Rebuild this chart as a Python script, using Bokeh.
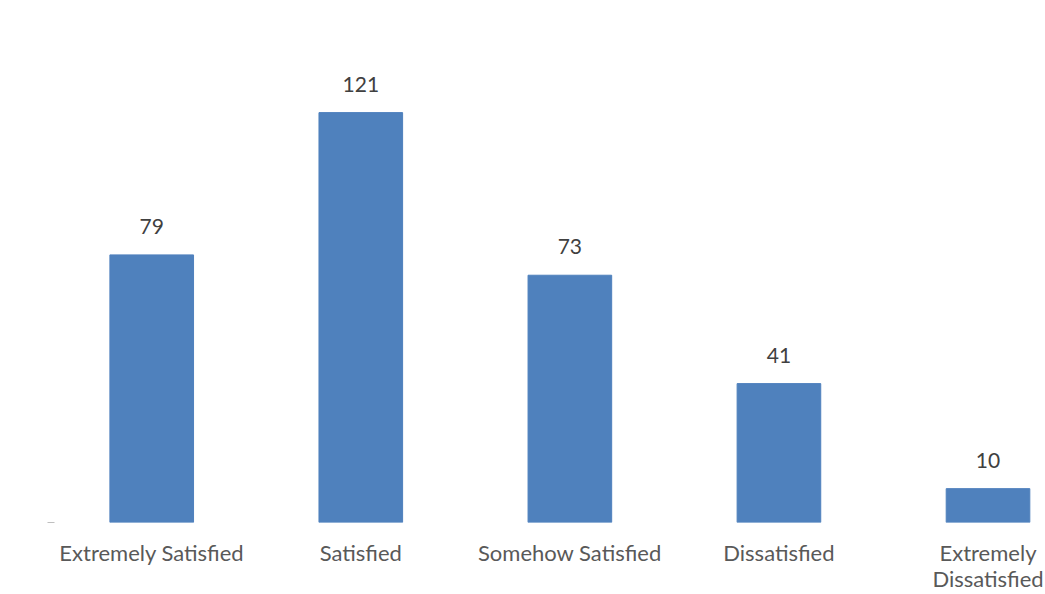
from bokeh.plotting import figure
from bokeh.models import Range1d, FixedTicker, ColumnDataSource, LinearAxis
from bokeh.core.properties import value
from bokeh.embed import file_html
from bokeh.resources import INLINE

categories = ["Extremely Satisfied", "Satisfied", "Somehow Satisfied", "Dissatisfied", "Extremely Dissatisfied"]
counts = [79, 121, 73, 41, 10]

# label lines (the last category wraps onto a second line)
label_line1 = ["Extremely Satisfied", "Satisfied", "Somehow Satisfied", "Dissatisfied", "Extremely"]
label_line2 = ["", "", "", "", "Dissatisfied"]

xs = list(range(len(categories)))
src = ColumnDataSource(dict(x=xs, top=counts, label=[str(c) for c in counts]))

p = figure(width=1045, height=594, output_backend="svg", toolbar_location=None,
           x_range=Range1d(-0.465, 4.275), y_range=Range1d(0, 154.1),
           min_border_left=54, min_border_right=0, min_border_top=0, min_border_bottom=0)
p.outline_line_color = None
p.grid.grid_line_color = None
p.background_fill_color = "white"
p.border_fill_color = "white"

p.vbar(x="x", top="top", width=0.4, source=src, color="#4F81BD")
p.text(x="x", y="top", text="label", source=src, text_align="center", text_baseline="bottom",
       y_offset=-21, text_font=value("Lato"), text_font_size="21px", text_color="#404040")


def style_axis(ax, labels, standoff):
    ax.ticker = FixedTicker(ticks=[x for x, l in zip(xs, labels) if l])
    ax.major_label_overrides = {x: l for x, l in zip(xs, labels) if l}
    ax.axis_line_color = None
    ax.major_tick_line_color = None
    ax.minor_tick_line_color = None
    ax.major_tick_in = 0
    ax.major_tick_out = 0
    ax.major_label_text_font = "Lato"
    ax.major_label_text_font_size = "22px"
    ax.major_label_text_color = "#595959"
    ax.major_label_standoff = standoff


style_axis(p.xaxis[0], label_line1, 16)
ax2 = LinearAxis()
p.add_layout(ax2, "below")
style_axis(ax2, label_line2, -4)

ay = p.yaxis[0]
ay.ticker = FixedTicker(ticks=[0])
ay.major_label_text_font_size = "0px"
ay.major_label_text_color = None
ay.axis_line_color = None
ay.major_tick_line_color = "#BFBFBF"
ay.major_tick_out = 7
ay.major_tick_in = 0
ay.minor_tick_line_color = None
ay.major_label_standoff = 0

open("out.html", "w").write(file_html(p, INLINE))
